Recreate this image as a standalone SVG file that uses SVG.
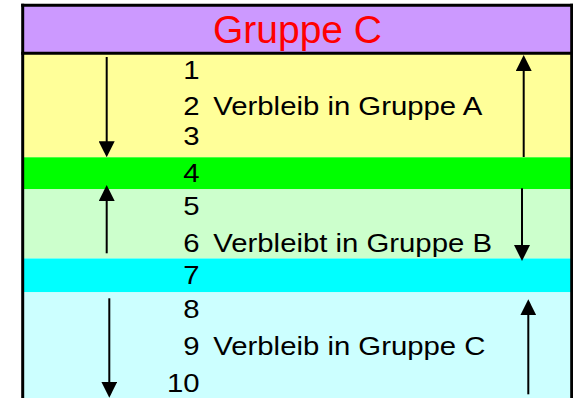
<svg xmlns="http://www.w3.org/2000/svg" width="573" height="398" viewBox="0 0 573 398">
<style>
.lbl{font-family:"Liberation Sans",Arial,sans-serif;font-size:25.5px;fill:#000}
.num{text-anchor:end}
.hdr{font-family:"Liberation Sans",Arial,sans-serif;font-size:39px;fill:#FF0000;text-anchor:middle}
.bd{stroke:#000;stroke-width:3;fill:none}
.arr{stroke:#000;stroke-width:2;fill:none;marker-end:url(#ah)}
</style>
<defs>
<marker id="ah" viewBox="0 0 16 16" refX="13" refY="8" markerWidth="16" markerHeight="16" markerUnits="userSpaceOnUse" orient="auto">
<path d="M0,0 L16,8 L0,16 Z" fill="#000"/>
</marker>
</defs>
<rect width="573" height="398" fill="#FFFFFF"/>
<g id="header">
<rect x="22.7" y="5.3" width="549" height="48" fill="#CC99FF"/>
<text class="hdr" x="297.5" y="43">Gruppe C</text>
</g>
<g id="band-a">
<rect x="22.7" y="53.3" width="549" height="104" fill="#FFFF99"/>
<g transform="scale(1.15 1)">
<text class="lbl num" x="173.5" y="79.3">1</text>
<text class="lbl num" x="173.5" y="115">2</text>
<text class="lbl" x="185.5" y="115">Verbleib in Gruppe A</text>
<text class="lbl num" x="173.5" y="145">3</text>
</g>
</g>
<g id="band-4">
<rect x="22.7" y="157.3" width="549" height="32" fill="#00FF00"/>
<text class="lbl num" x="173.5" y="182.3" transform="scale(1.15 1)">4</text>
</g>
<g id="band-b">
<rect x="22.7" y="189.3" width="549" height="69.2" fill="#CCFFCC"/>
<g transform="scale(1.15 1)">
<text class="lbl num" x="173.5" y="215">5</text>
<text class="lbl num" x="173.5" y="251.7">6</text>
<text class="lbl" x="185.5" y="251.7">Verbleibt in Gruppe B</text>
</g>
</g>
<g id="band-7">
<rect x="22.7" y="258.5" width="549" height="33.8" fill="#00FFFF"/>
<text class="lbl num" x="173.5" y="284" transform="scale(1.15 1)">7</text>
</g>
<g id="band-c">
<rect x="22.7" y="292.3" width="549" height="106" fill="#CCFFFF"/>
<g transform="scale(1.15 1)">
<text class="lbl num" x="173.5" y="317.7">8</text>
<text class="lbl num" x="173.5" y="355">9</text>
<text class="lbl" x="185.5" y="355">Verbleib in Gruppe C</text>
<text class="lbl num" x="173.5" y="391.7">10</text>
</g>
</g>
<g id="frame">
<line class="bd" x1="21.2" y1="5.3" x2="573" y2="5.3"/>
<line class="bd" x1="21.2" y1="53.3" x2="573" y2="53.3"/>
<line class="bd" x1="22.7" y1="3.8" x2="22.7" y2="398"/>
<line class="bd" x1="571.7" y1="3.8" x2="571.7" y2="398"/>
</g>
<g id="connectors">
<line class="arr" x1="106.7" y1="57" x2="106.7" y2="154.3"/>
<line class="arr" x1="106.7" y1="253.3" x2="106.7" y2="188"/>
<line class="arr" x1="109.3" y1="298.3" x2="109.3" y2="394.7"/>
<line class="arr" x1="523.7" y1="157" x2="523.7" y2="58"/>
<line class="arr" x1="522" y1="188.3" x2="522" y2="258"/>
<line class="arr" x1="528.3" y1="394.3" x2="528.3" y2="302.3"/>
</g>
</svg>
